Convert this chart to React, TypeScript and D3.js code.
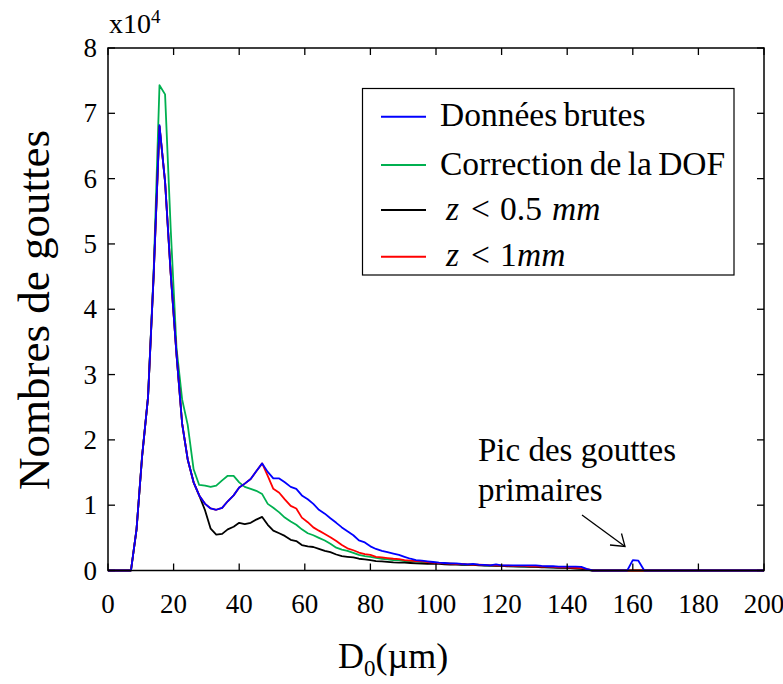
import React from "react";
import * as d3 from "d3";

// Bin centres (µm)
const diameters = [0,1.7,3.5,5.2,7,8.7,10.4,12.2,13.9,15.7,17.4,19.1,20.9,22.6,24.3,26.1,27.8,29.6,31.3,33,34.8,36.5,38.3,40,41.7,43.5,45.2,47,48.7,50.4,52.2,53.9,55.7,57.4,59.1,60.9,62.6,64.3,66.1,67.8,69.6,71.3,73,74.8,76.5,78.3,80,81.7,83.5,85.2,87,88.7,90.4,92.2,93.9,95.7,97.4,99.1,100.9,102.6,104.3,106.1,107.8,109.6,111.3,113,114.8,116.5,118.3,120,121.7,123.5,125.2,127,128.7,130.4,132.2,133.9,135.7,137.4,139.1,140.9,142.6,144.3,146.1,147.8,149.6,151.3,153,154.8,156.5,158.3,160,161.7,163.5,165.2,167,168.7,170.4,172.2,173.9,175.7,177.4,179.1,180.9,182.6,184.3,186.1,187.8,189.6,191.3,193,194.8,196.5,198.3,200];

// Counts in units of 10^4
const brutes = [0,0,0,0,0,0.63,1.75,2.65,4.5,6.82,5.95,4.56,3.3,2.25,1.7,1.35,1.15,1.02,0.95,0.93,0.96,1.06,1.15,1.27,1.33,1.4,1.52,1.64,1.51,1.41,1.41,1.35,1.28,1.25,1.15,1.09,1.02,0.93,0.87,0.8,0.73,0.66,0.6,0.54,0.46,0.43,0.37,0.33,0.3,0.28,0.26,0.24,0.21,0.18,0.16,0.15,0.14,0.13,0.12,0.115,0.11,0.11,0.1,0.095,0.1,0.09,0.085,0.08,0.095,0.08,0.08,0.08,0.08,0.08,0.08,0.08,0.07,0.065,0.065,0.06,0.06,0.06,0.06,0.055,0.02,0,0,0,0,0,0,0,0.16,0.15,0,0,0,0,0,0,0,0,0,0,0,0,0,0,0,0,0,0,0,0,0,0];

const correctionDOF = [0,0,0,0,0,0.63,1.75,2.65,4.55,7.43,7.29,5.25,3.4,2.62,2.23,1.55,1.31,1.3,1.28,1.3,1.38,1.45,1.45,1.35,1.28,1.25,1.22,1.17,1.02,0.96,0.89,0.81,0.75,0.7,0.63,0.57,0.54,0.5,0.46,0.41,0.35,0.32,0.3,0.27,0.24,0.22,0.21,0.195,0.18,0.17,0.16,0.158,0.145,0.14,0.135,0.13,0.125,0.12,0.115,0.11,0.105,0.1,0.095,0.09,0.09,0.085,0.08,0.075,0.075,0.07,0.07,0.065,0.065,0.06,0.06,0.055,0.055,0.05,0.05,0.045,0.04,0.04,0.035,0.03,0.015,0,0,0,0,0,0,0,0,0,0,0,0,0,0,0,0,0,0,0,0,0,0,0,0,0,0,0,0,0,0,0];

const zHalfMm = [0,0,0,0,0,0.63,1.75,2.65,4.5,6.8,5.95,4.56,3.3,2.25,1.7,1.35,1.15,0.92,0.64,0.55,0.56,0.63,0.67,0.73,0.71,0.73,0.78,0.82,0.7,0.61,0.57,0.53,0.47,0.45,0.39,0.37,0.36,0.33,0.3,0.28,0.245,0.22,0.21,0.2,0.18,0.17,0.16,0.145,0.14,0.133,0.125,0.12,0.12,0.115,0.11,0.105,0.1,0.1,0.1,0.095,0.09,0.09,0.085,0.085,0.085,0.08,0.075,0.075,0.07,0.07,0.065,0.065,0.06,0.06,0.055,0.055,0.05,0.05,0.045,0.04,0.04,0.035,0.03,0.025,0.01,0,0,0,0,0,0,0,0,0,0,0,0,0,0,0,0,0,0,0,0,0,0,0,0,0,0,0,0,0,0,0];

const zOneMm = [0,0,0,0,0,0.63,1.75,2.65,4.5,6.8,5.95,4.56,3.3,2.25,1.7,1.35,1.15,1.02,0.95,0.93,0.96,1.06,1.15,1.27,1.33,1.4,1.52,1.64,1.45,1.25,1.19,1.09,0.99,0.95,0.81,0.74,0.66,0.61,0.56,0.51,0.45,0.39,0.34,0.31,0.275,0.25,0.24,0.21,0.2,0.19,0.18,0.175,0.16,0.15,0.145,0.14,0.13,0.12,0.115,0.11,0.105,0.1,0.1,0.095,0.09,0.09,0.085,0.08,0.08,0.075,0.075,0.07,0.07,0.07,0.065,0.065,0.06,0.06,0.055,0.05,0.05,0.045,0.04,0.035,0.02,0,0,0,0,0,0,0,0,0,0,0,0,0,0,0,0,0,0,0,0,0,0,0,0,0,0,0,0,0,0,0];

const xTicks = [0,20,40,60,80,100,120,140,160,180,200];
const yTicks = [0,1,2,3,4,5,6,7,8];

const FONT = "Liberation Serif";

export default function App() {
  const left = 108, right = 764, top = 48, bottom = 570.5;
  const x = d3.scaleLinear().domain([0, 200]).range([left, right]);
  const y = d3.scaleLinear().domain([0, 8]).range([bottom, top]);

  const mk = (vals: number[]) =>
    d3.line<number>().x((_, i) => x(diameters[i])).y((v) => y(v))(vals) || "";

  const series = [
    { name: "green", vals: correctionDOF, color: "#00b050" },
    { name: "black", vals: zHalfMm, color: "#000000" },
    { name: "red", vals: zOneMm, color: "#ff0000" },
    { name: "blue", vals: brutes, color: "#0000ff" },
  ];

  const tick = 7;
  const legendX = 362.5, legendY = 88.5, legendW = 371.5, legendH = 186.5;
  const legendRows = [
    { color: "#0000ff", y: 116.7 },
    { color: "#00b050", y: 165 },
    { color: "#000000", y: 210 },
    { color: "#ff0000", y: 256.7 },
  ];
  const ts = { fontFamily: FONT };

  return (
    <svg width={783} height={684} style={{ position: "absolute", left: 0, top: 0, background: "#fff", fontFamily: FONT }}>
      <rect x={0} y={0} width={783} height={684} fill="#fff" />
      {/* data lines */}
      <g fill="none" strokeWidth={1.8} strokeLinejoin="round">
        {series.map((s) => (
          <path key={s.name} d={mk(s.vals)} stroke={s.color} />
        ))}
      </g>
      {/* axes box */}
      <rect x={left} y={top} width={right - left} height={bottom - top} fill="none" stroke="#000" strokeWidth={1.5} />
      {/* ticks */}
      <g stroke="#000" strokeWidth={1.3}>
        {xTicks.map((t) => (
          <g key={"xt" + t}>
            <line x1={x(t)} x2={x(t)} y1={bottom} y2={bottom - tick} />
            <line x1={x(t)} x2={x(t)} y1={top} y2={top + tick} />
          </g>
        ))}
        {yTicks.map((t) => (
          <g key={"yt" + t}>
            <line x1={left} x2={left + tick} y1={y(t)} y2={y(t)} />
            <line x1={right} x2={right - tick} y1={y(t)} y2={y(t)} />
          </g>
        ))}
      </g>
      {/* tick labels */}
      <g fontSize={27} fill="#000">
        {xTicks.map((t) => (
          <text key={"xl" + t} style={ts} x={x(t)} y={bottom + 42} textAnchor="middle">{t}</text>
        ))}
        {yTicks.map((t) => (
          <text key={"yl" + t} style={ts} x={97} y={y(t) + 9} textAnchor="end">{t}</text>
        ))}
      </g>
      {/* exponent */}
      <text style={ts} x={109} y={33} fontSize={28} fill="#000">x10<tspan fontSize={19} dy={-10}>4</tspan></text>
      {/* axis labels */}
      <text style={ts} transform="translate(49,310) rotate(-90)" textAnchor="middle" fontSize={45} fill="#000">Nombres de gouttes</text>
      <text style={ts} x={338} y={668} fontSize={36} fill="#000">D<tspan fontSize={23} dy={8}>0</tspan><tspan dy={-8}>(µm)</tspan></text>
      {/* legend */}
      <rect x={legendX} y={legendY} width={legendW} height={legendH} fill="#fff" stroke="#000" strokeWidth={1.2} />
      {legendRows.map((r, i) => (
        <line key={"lg" + i} x1={381} x2={426} y1={r.y} y2={r.y} stroke={r.color} strokeWidth={2} />
      ))}
      <g fontSize={33.5} fill="#000">
        <text style={ts} x={440} y={126} wordSpacing={-2}>Données brutes</text>
        <text style={ts} x={440} y={174.5} wordSpacing={-2}>Correction de la DOF</text>
        <text style={ts} x={446} y={219.5}>
          <tspan fontStyle="italic">z</tspan>
          <tspan x={471}>&lt;</tspan>
          <tspan x={500}>0.5</tspan>
          <tspan x={552} fontStyle="italic">mm</tspan>
        </text>
        <text style={ts} x={446} y={266}>
          <tspan fontStyle="italic">z</tspan>
          <tspan x={471}>&lt;</tspan>
          <tspan x={500}>1</tspan>
          <tspan x={517} fontStyle="italic">mm</tspan>
        </text>
      </g>
      {/* annotation */}
      <text style={ts} x={478} y={461} fontSize={33} fill="#000">Pic des gouttes</text>
      <text style={ts} x={478} y={501} fontSize={33} fill="#000">primaires</text>
      <g stroke="#000" strokeWidth={1.3} fill="none">
        <line x1={582} y1={515} x2={625} y2={546.5} />
        <polyline points="610,545 625,546.5 621.5,533.5" />
      </g>
    </svg>
  );
}
